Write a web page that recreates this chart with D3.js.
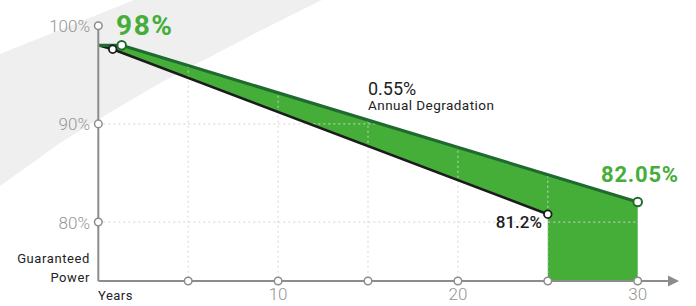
<!DOCTYPE html>
<html>
<head>
<meta charset="utf-8">
<script src="https://cdn.jsdelivr.net/npm/d3@7"></script>
<style>
  body { margin: 0; background: #fff; }
  svg { display: block; font-family: Roboto, "Noto Sans", sans-serif; }
</style>
</head>
<body>
<div id="chart"></div>
<script>
// values
var topYears = [0, 1.3, 30];
var topValues = [98, 98, 82.05];
var bottomYears = [0, 0.8, 25];
var bottomValues = [98, 97.6, 80.8];
var yTicks = [100, 90, 80];
var xTicks = [5, 10, 15, 20, 25, 30];
var xTickLabels = [10, 20, 30];
var gridX = [5, 10, 15, 20, 25];
var gridY = [90, 80];

var width = 696, height = 306;
var x = d3.scaleLinear().domain([0, 30]).range([98.3, 637.7]);
var y = d3.scaleLinear().domain([74, 100]).range([281, 25.7]);

var topLine = topYears.map(function(d, i) { return [d, topValues[i]]; });
var bottomLine = bottomYears.map(function(d, i) { return [d, bottomValues[i]]; });

var svg = d3.select("#chart").append("svg")
    .attr("width", width)
    .attr("height", height);

// grey swoosh in the background
svg.append("path")
    .attr("d", "M0,54 L134,0 L322,0 C260,30 220,52 200,62 C160,82 100,118 60,143 L0,186 Z")
    .attr("fill", "#efefef");

var line = d3.line()
    .x(function(d) { return x(d[0]); })
    .y(function(d) { return y(d[1]); });

// area between guarantee and the competitor line, plus block down to axis
var areaPts = topLine.concat([[30, 74], [25, 74]]).concat(bottomLine.slice().reverse());
svg.append("path")
    .attr("d", line(areaPts) + "Z")
    .attr("fill", "#45ae38");

// grid only under the top line
var clipPts = topLine.concat([[30, 74], [0, 74]]);
svg.append("clipPath").attr("id", "under")
    .append("path").attr("d", line(clipPts) + "Z");

var grid = svg.append("g").attr("clip-path", "url(#under)")
    .attr("stroke", "#d4d4d4")
    .attr("stroke-opacity", 0.8)
    .attr("stroke-width", 1.2)
    .attr("stroke-dasharray", "2,3");
grid.selectAll("line.gx")
    .data(gridX).enter().append("line")
    .attr("class", "gx")
    .attr("x1", function(d) { return x(d); })
    .attr("x2", function(d) { return x(d); })
    .attr("y1", y(100)).attr("y2", y(74));
grid.selectAll("line.gy")
    .data(gridY).enter().append("line")
    .attr("class", "gy")
    .attr("x1", x(0)).attr("x2", x(30))
    .attr("y1", function(d) { return y(d); })
    .attr("y2", function(d) { return y(d); });

svg.append("path")
    .attr("d", line(bottomLine))
    .attr("fill", "none")
    .attr("stroke", "#1c1c1c")
    .attr("stroke-width", 2.5);

svg.append("path")
    .attr("d", line(topLine))
    .attr("fill", "none")
    .attr("stroke", "#1f6b2f")
    .attr("stroke-width", 3.2);

// axes
var axisColor = "#8c8c8c";
svg.append("line")
    .attr("x1", x(0)).attr("x2", x(0))
    .attr("y1", y(74)).attr("y2", y(100))
    .attr("stroke", axisColor).attr("stroke-width", 2);
svg.append("line")
    .attr("x1", x(0)).attr("x2", 670)
    .attr("y1", y(74)).attr("y2", y(74))
    .attr("stroke", axisColor).attr("stroke-width", 2);
svg.append("path")
    .attr("d", "M668," + (y(74) - 5.5) + " L679," + y(74) + " L668," + (y(74) + 5.5) + " Z")
    .attr("fill", axisColor);

svg.selectAll("circle.yt")
    .data(yTicks).enter().append("circle")
    .attr("class", "yt")
    .attr("cx", x(0)).attr("cy", function(d) { return y(d); })
    .attr("r", 3.8)
    .attr("fill", "#fff").attr("stroke", axisColor).attr("stroke-width", 1.5);
svg.selectAll("circle.xt")
    .data(xTicks).enter().append("circle")
    .attr("class", "xt")
    .attr("cx", function(d) { return x(d); }).attr("cy", y(74))
    .attr("r", 3.8)
    .attr("fill", "#fff").attr("stroke", axisColor).attr("stroke-width", 1.5);

svg.selectAll("text.yl")
    .data(yTicks).enter().append("text")
    .attr("class", "yl")
    .attr("x", 90).attr("y", function(d) { return y(d) + 6.5; })
    .attr("text-anchor", "end")
    .attr("font-size", 17).attr("font-weight", 300)
    .attr("fill", "#959595")
    .text(function(d) { return d + "%"; });

svg.selectAll("text.xl")
    .data(xTickLabels).enter().append("text")
    .attr("class", "xl")
    .attr("x", function(d) { return x(d); }).attr("y", 300)
    .attr("text-anchor", "middle")
    .attr("font-size", 17).attr("font-weight", 300)
    .attr("fill", "#959595")
    .text(function(d) { return d; });

svg.append("text").attr("x", 98).attr("y", 300)
    .attr("font-size", 13).attr("letter-spacing", 0.5)
    .attr("fill", "#222").text("Years");
svg.append("text").attr("x", 90).attr("y", 263.3)
    .attr("text-anchor", "end")
    .attr("font-size", 13).attr("letter-spacing", 0.6)
    .attr("fill", "#222").text("Guaranteed");
svg.append("text").attr("x", 90).attr("y", 281.7)
    .attr("text-anchor", "end")
    .attr("font-size", 13).attr("letter-spacing", 0.6)
    .attr("fill", "#222").text("Power");

// point markers
svg.selectAll("circle.bp")
    .data(bottomLine.slice(1)).enter().append("circle")
    .attr("class", "bp")
    .attr("cx", function(d) { return x(d[0]); })
    .attr("cy", function(d) { return y(d[1]); })
    .attr("r", 3.8)
    .attr("fill", "#fff").attr("stroke", "#1c1c1c").attr("stroke-width", 1.8);
svg.selectAll("circle.tp")
    .data(topLine.slice(1)).enter().append("circle")
    .attr("class", "tp")
    .attr("cx", function(d) { return x(d[0]); })
    .attr("cy", function(d) { return y(d[1]); })
    .attr("r", 4.3)
    .attr("fill", "#fff").attr("stroke", "#1f6b2f").attr("stroke-width", 2);

// value labels
var green = "#45ae38";
svg.append("text").attr("x", 116).attr("y", 35)
    .attr("font-size", 28).attr("font-weight", 700)
    .attr("letter-spacing", 1.6)
    .attr("fill", green).text("98%");
svg.append("text").attr("x", 601).attr("y", 182.3)
    .attr("font-size", 22).attr("font-weight", 700)
    .attr("letter-spacing", 0.8)
    .attr("fill", green).text("82.05%");
svg.append("text").attr("x", 542).attr("y", 228.3)
    .attr("text-anchor", "end")
    .attr("font-size", 17).attr("font-weight", 500)
    .attr("fill", "#1c1c1c").text("81.2%");
svg.append("text").attr("x", 368).attr("y", 95)
    .attr("font-size", 18)
    .attr("fill", "#222").text("0.55%");
svg.append("text").attr("x", 368).attr("y", 110)
    .attr("font-size", 13.5).attr("letter-spacing", 0.45)
    .attr("fill", "#222").text("Annual Degradation");
</script>
</body>
</html>
